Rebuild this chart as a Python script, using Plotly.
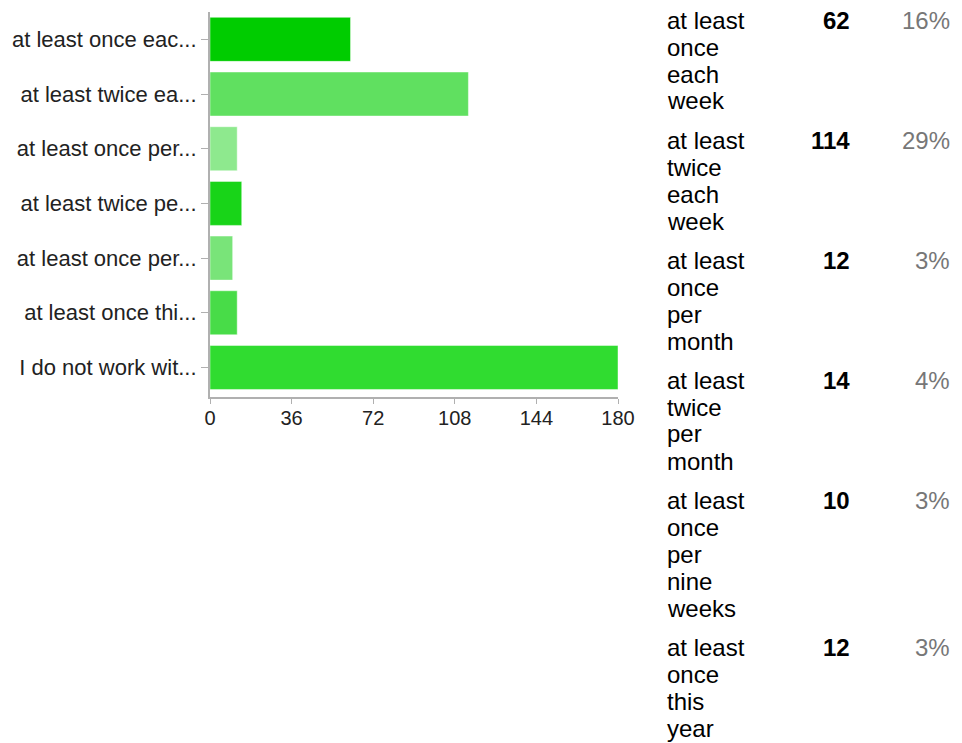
import plotly.graph_objects as go

# ---- data ----
categories = [
    "at least once each week",
    "at least twice each week",
    "at least once per month",
    "at least twice per month",
    "at least once per nine weeks",
    "at least once this year",
    "I do not work with",
]
tick_labels = [
    "at least once eac...",
    "at least twice ea...",
    "at least once per...",
    "at least twice pe...",
    "at least once per...",
    "at least once thi...",
    "I do not work wit...",
]
counts = [62, 114, 12, 14, 10, 12, 180]
bar_colors = ["#00cc00", "#60e060", "#8ee98e", "#18d418", "#79e479", "#48dc48", "#30dc30"]

table_labels = [
    ["at least", "once", "each", "week"],
    ["at least", "twice", "each", "week"],
    ["at least", "once", "per", "month"],
    ["at least", "twice", "per", "month"],
    ["at least", "once", "per", "nine", "weeks"],
    ["at least", "once", "this", "year"],
]
table_counts = [62, 114, 12, 14, 10, 12]
table_pcts = ["16%", "29%", "3%", "4%", "3%", "3%"]
x_ticks = [0, 36, 72, 108, 144, 180]

# ---- layout geometry (pixels) ----
W, H = 962, 743
ML, MR, MT, MB = 204, 344, 12, 346
PW = W - ML - MR
PH = H - MT - MB

def px_x(px):
    return (px - ML) / PW

def px_y(py):
    return (H - MB - py) / PH

FONT = "Liberation Sans, Arial, sans-serif"

fig = go.Figure()
fig.add_trace(go.Bar(
    y=categories,
    x=counts,
    orientation="h",
    marker=dict(color=bar_colors, line=dict(color="rgba(255,255,255,0.45)", width=1)),
    hoverinfo="x+y",
))

annotations = []
line_pitch = 27
row_gap = 12
baseline = 28
for labels, cnt, pct in zip(table_labels, table_counts, table_pcts):
    for j, word in enumerate(labels):
        annotations.append(dict(
            x=px_x(666), y=px_y(baseline + j * line_pitch - 8), xref="paper", yref="paper",
            text=word, showarrow=False, xanchor="left", yanchor="middle",
            font=dict(family=FONT, size=24, color="#000000"),
        ))
    annotations.append(dict(
        x=px_x(855), y=px_y(baseline - 8), xref="paper", yref="paper",
        text="<b>%d</b>" % cnt, showarrow=False, xanchor="right", yanchor="middle",
        font=dict(family=FONT, size=24, color="#000000"),
    ))
    annotations.append(dict(
        x=px_x(957), y=px_y(baseline - 8), xref="paper", yref="paper",
        text=pct, showarrow=False, xanchor="right", yanchor="middle",
        font=dict(family=FONT, size=24, color="#777777"),
    ))
    baseline += len(labels) * line_pitch + row_gap

fig.update_layout(
    width=W, height=H,
    margin=dict(l=ML, r=MR, t=MT, b=MB, pad=0),
    paper_bgcolor="white", plot_bgcolor="white",
    showlegend=False,
    bargap=0.195,
    annotations=annotations,
    xaxis=dict(
        range=[0, 180], tickvals=x_ticks, ticktext=[str(v) for v in x_ticks],
        showgrid=False, zeroline=False, showline=True, linecolor="#b0b0b0", linewidth=1.5,
        ticks="outside", ticklen=5, tickcolor="#b0b0b0", tickwidth=1,
        ticklabelstandoff=-3,
        tickfont=dict(family=FONT, size=20, color="#222222"),
        fixedrange=True,
    ),
    yaxis=dict(
        categoryorder="array", categoryarray=categories,
        tickvals=categories, ticktext=tick_labels,
        range=[6.54, -0.5],
        showgrid=False, zeroline=False, showline=True, linecolor="#b0b0b0", linewidth=2,
        ticks="outside", ticklen=7, tickcolor="#b0b0b0", tickwidth=1,
        tickfont=dict(family=FONT, size=22, color="#222222"),
        fixedrange=True,
    ),
)

fig.write_html("out.html", config={"displayModeBar": False},
               post_script="document.body.style.margin='0px';")
